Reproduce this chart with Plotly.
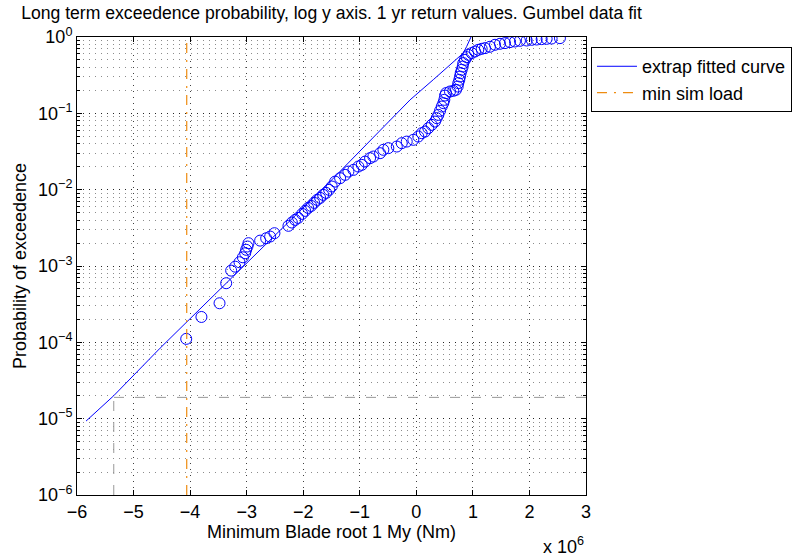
import plotly.graph_objects as go

# Minimum blade root My (units of 1e6 Nm) and long-term exceedance probability
x_data = [-4.069, -3.800, -3.480, -3.362, -3.274, -3.203, -3.127, -3.067, -3.026, -3.009,
          -2.986, -2.968, -2.762, -2.655, -2.585, -2.509, -2.261, -2.201, -2.143, -2.090,
          -2.019, -1.966, -1.913, -1.860, -1.807, -1.754, -1.701, -1.648, -1.595, -1.542,
          -1.495, -1.436, -1.348, -1.259, -1.201, -1.113, -1.025, -0.965, -0.906, -0.818,
          -0.760, -0.641, -0.583, -0.495, -0.346, -0.258, -0.170, -0.053, 0.035, 0.095,
          0.154, 0.212, 0.272, 0.330, 0.360, 0.389, 0.419, 0.449, 0.477, 0.495,
          0.507, 0.525, 0.595, 0.654, 0.701, 0.731, 0.742, 0.760, 0.772, 0.784,
          0.802, 0.820, 0.830, 0.860, 0.890, 0.919, 0.979, 1.037, 1.095, 1.155,
          1.214, 1.302, 1.391, 1.479, 1.567, 1.656, 1.744, 1.832, 1.951, 2.039,
          2.127, 2.216, 2.304, 2.392, 2.539]
p_data = [1.11e-4, 2.15e-4, 3.25e-4, 5.95e-4, 8.7e-4, 9.8e-4, 1.12e-3, 1.30e-3, 1.47e-3, 1.63e-3,
          1.80e-3, 1.99e-3, 2.15e-3, 2.31e-3, 2.43e-3, 2.69e-3, 3.36e-3, 3.71e-3, 4.02e-3, 4.27e-3,
          4.82e-3, 5.27e-3, 5.77e-3, 6.12e-3, 6.71e-3, 7.35e-3, 7.80e-3, 8.55e-3, 9.08e-3, 9.95e-3,
          0.0110, 0.01276, 0.01416, 0.01563, 0.01726, 0.01816, 0.02009, 0.02113, 0.02333, 0.02588,
          0.02716, 0.03006, 0.03327, 0.03499, 0.03673, 0.04064, 0.04266, 0.04498, 0.04966, 0.05495,
          0.05768, 0.06397, 0.07063, 0.07798, 0.08650, 0.09550, 0.1079, 0.1227, 0.1361, 0.1503,
          0.1710, 0.1841, 0.1932, 0.1972, 0.2032, 0.2244, 0.2489, 0.2748, 0.3034, 0.3365,
          0.3715, 0.4102, 0.4550, 0.5023, 0.5445, 0.5848, 0.6152, 0.6457, 0.6792, 0.6998,
          0.7145, 0.7447, 0.7907, 0.8147, 0.8318, 0.8570, 0.8730, 0.8913, 0.8995, 0.9183,
          0.9268, 0.9376, 0.9462, 0.9550, 0.9660]

# Extrapolated Gumbel fit
x_fit = [-5.84, -5.35, -4.53, -3.37, -2.50, -1.525, -0.80, -0.111, 0.30,
         0.772, 0.83, 0.89, 0.93, 0.966]
p_fit = [9.3e-6, 2.0e-5, 8.4e-5, 5.96e-4, 2.52e-3, 0.01276, 0.0452, 0.150, 0.276,
         0.555, 0.615, 0.751, 0.86, 1.0]

# Minimum simulated load
min_sim_load = -4.06
# 1-year return level marker
return_x = -5.35
return_p = 1.9e-5

x_ticks = [-6, -5, -4, -3, -2, -1, 0, 1, 2, 3]
y_ticks = [1e-6, 1e-5, 1e-4, 1e-3, 1e-2, 1e-1, 1]
y_ticktext = ["10<sup>\u22126</sup>", "10<sup>\u22125</sup>", "10<sup>\u22124</sup>",
              "10<sup>\u22123</sup>", "10<sup>\u22122</sup>", "10<sup>\u22121</sup>", "10<sup>0</sup>"]

FONT = "Liberation Sans, Arial, Helvetica, sans-serif"
FS = 18
BLUE = "#0000ff"
ORANGE = "#ee8c10"
GRAY = "#999999"

fig = go.Figure()

fig.add_trace(go.Scatter(
    x=x_data, y=p_data, mode="markers", showlegend=False,
    marker=dict(symbol="circle-open", size=11, color=BLUE, line=dict(width=1, color=BLUE)),
))
fig.add_trace(go.Scatter(
    x=x_fit, y=p_fit, mode="lines", name="extrap fitted curve",
    line=dict(color=BLUE, width=1),
))
fig.add_trace(go.Scatter(
    x=[min_sim_load, min_sim_load], y=[1e-6, 1], mode="lines", name="min sim load",
    line=dict(color=ORANGE, width=1.2, dash="10px,7px,2px,7px"),
))
fig.add_trace(go.Scatter(
    x=[x_ticks[-1], return_x], y=[return_p, return_p], mode="lines", showlegend=False,
    line=dict(color=GRAY, width=1, dash="10px,11px"),
))
fig.add_trace(go.Scatter(
    x=[return_x, return_x], y=[1e-6, return_p], mode="lines", showlegend=False,
    line=dict(color=GRAY, width=1, dash="10px,11px"),
))

axis_common = dict(
    showline=True, linecolor="black", linewidth=1, mirror="allticks",
    ticks="inside", ticklen=5, tickcolor="black",
    showgrid=True, gridcolor="rgba(0,0,0,0.75)", griddash="1px,5px", gridwidth=1,
    zeroline=False, tickfont=dict(family=FONT, size=FS, color="black"),
)

fig.update_xaxes(
    range=[-6, 3], tickvals=x_ticks, **axis_common,
    title=dict(text="Minimum Blade root 1 My (Nm)", font=dict(family=FONT, size=FS, color="black"),
               standoff=2),
)
fig.update_yaxes(
    type="log", range=[-6, 0], tickvals=y_ticks, ticktext=y_ticktext, **axis_common,
    minor=dict(dtick="D1", showgrid=True, gridcolor="rgba(0,0,0,0.45)", griddash="1px,5px",
               ticks="inside", ticklen=3, tickcolor="black"),
    title=dict(text="Probability of exceedence", font=dict(family=FONT, size=FS, color="black"),
               standoff=6),
)

fig.update_layout(
    width=811, height=557,
    margin=dict(l=77, r=225, t=37, b=62),
    paper_bgcolor="white", plot_bgcolor="white",
    font=dict(family=FONT, size=FS, color="black"),
    title=dict(text="Long term exceedence probability, log y axis. 1 yr return values. Gumbel data fit",
               x=0.5, xref="paper", xanchor="center", y=1 - 13 / 557, yref="container",
               yanchor="middle", font=dict(family=FONT, size=17.6, color="black")),
    legend=dict(x=1.0098, y=0.978, xanchor="left", yanchor="top",
                bordercolor="black", borderwidth=1, bgcolor="white",
                font=dict(family=FONT, size=FS, color="black"),
                tracegroupgap=0, itemwidth=40),
    showlegend=True,
    annotations=[dict(text="x 10<sup>6</sup>", x=0.955, y=-0.11, xref="paper", yref="paper",
                      showarrow=False, xanchor="center", yanchor="middle",
                      font=dict(family=FONT, size=FS, color="black"))],
)

fig.write_html("out.html")
